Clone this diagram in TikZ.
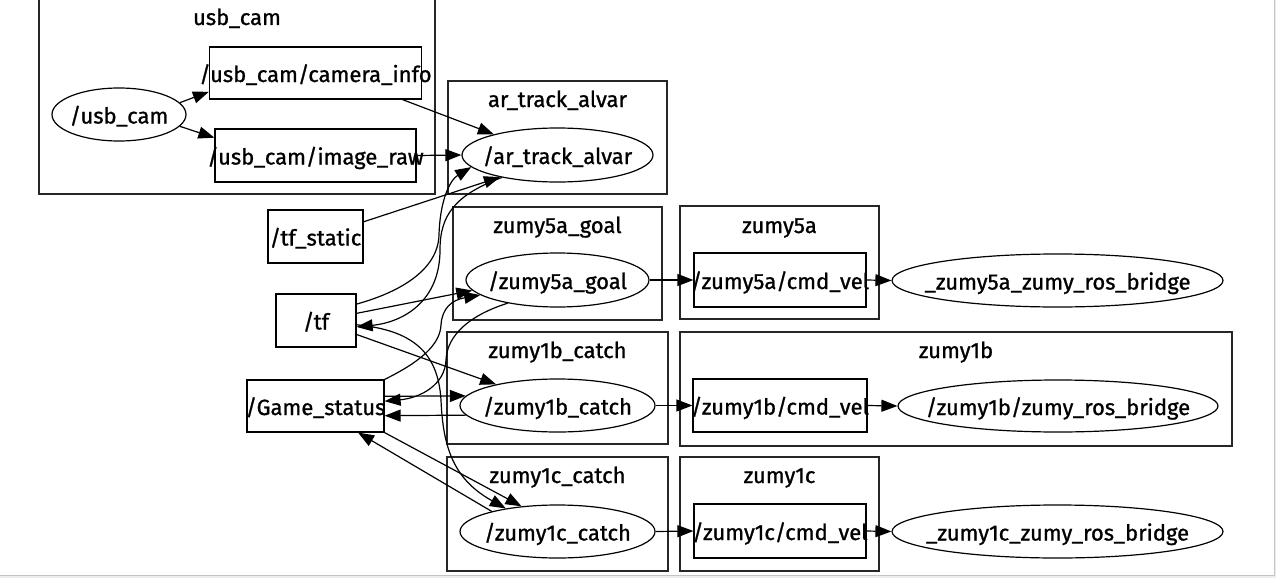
\documentclass[tikz,border=0pt]{standalone}
\usepackage{fontspec}
\setmainfont{Fira Sans}
\usetikzlibrary{shapes.geometric,arrows.meta}
\newfontfamily\nodefont{Fira Sans}[FakeBold=1.0]
\newcommand{\nt}[1]{\makebox[0pt][c]{#1}}
\definecolor{framegray}{HTML}{EDEDED}
\definecolor{framedark}{HTML}{C4C4C4}
\tikzset{
  basebox/.style={draw, line width=1.2pt, inner sep=0pt, font=\nodefont\fontsize{22}{24}\selectfont, text height=18pt, text depth=0pt},
  topic/.style={basebox, rectangle},
  rosnode/.style={basebox, ellipse},
  cluster/.style={draw=black!85, line width=1.2pt},
  clabel/.style={anchor=base, inner sep=0pt, font=\nodefont\fontsize{22}{24}\selectfont},
  arr/.style={-{Triangle[length=16pt,width=12pt]}, line width=1.2pt},
}
\begin{document}
\begin{tikzpicture}[x=1pt,y=-1pt]
\useasboundingbox (0,0) rectangle (1276,578);
\fill[white] (0,0) rectangle (1276,578);
% frame at right and bottom
\fill[framegray] (1274,0) rectangle (1276,578);
\fill[framegray] (0,575) rectangle (1276,578);
\draw[framedark, line width=1pt] (1274.5,0) -- (1274.5,575.5) -- (0,575.5);

% clusters
\draw[cluster] (39,-0.3) rectangle (435,194);
\node[clabel] (lusbcam) at (237,25) {usb\_cam};
\draw[cluster] (448,81) rectangle (667,194);
\node[clabel] (lar) at (557.5,107) {ar\_track\_alvar};
\draw[cluster] (453,207) rectangle (662,320);
\node[clabel] (lgoal) at (557.5,233) {zumy5a\_goal};
\draw[cluster] (680,206) rectangle (879,319);
\node[clabel] (lz5a) at (779.5,233) {zumy5a};
\draw[cluster] (447,332) rectangle (668,444);
\node[clabel] (lc1b) at (557.5,358) {zumy1b\_catch};
\draw[cluster] (680,332) rectangle (1232,446);
\node[clabel] (lz1b) at (956,358) {zumy1b};
\draw[cluster] (447,457) rectangle (668,571);
\node[clabel] (lc1c) at (557.5,483) {zumy1c\_catch};
\draw[cluster] (680,457) rectangle (879,571);
\node[clabel] (lz1c) at (779.5,483) {zumy1c};

% nodes
\node[rosnode, minimum width=134pt, minimum height=53pt] (usbcam) at (119,114.5) {\nt{/usb\_cam}};
\node[topic, minimum width=212pt, minimum height=52pt] (caminfo) at (315.5,73) {\nt{/usb\_cam/camera\_info}};
\node[topic, minimum width=201pt, minimum height=53pt] (imgraw) at (315.5,155.5) {\nt{/usb\_cam/image\_raw}};
\node[rosnode, minimum width=191pt, minimum height=54pt] (ar) at (557.5,155) {\nt{/ar\_track\_alvar}};
\node[topic, minimum width=95pt, minimum height=53pt] (tfstatic) at (315.5,236.5) {\nt{/tf\_static}};
\node[topic, minimum width=80pt, minimum height=53pt] (tf) at (316,320.5) {\nt{/tf}};
\node[rosnode, minimum width=183pt, minimum height=54pt] (goal) at (557.5,280) {\nt{/zumy5a\_goal}};
\node[topic, minimum width=172pt, minimum height=54pt] (vel5a) at (780,280) {\nt{/zumy5a/cmd\_vel}};
\node[rosnode, minimum width=331pt, minimum height=53pt] (br5a) at (1057.5,280.5) {\nt{\_zumy5a\_zumy\_ros\_bridge}};
\node[topic, minimum width=137pt, minimum height=52pt] (game) at (315.5,406) {\nt{/Game\_status}};
\node[rosnode, minimum width=195pt, minimum height=53pt] (c1b) at (557.5,405.5) {\nt{/zumy1b\_catch}};
\node[topic, minimum width=174pt, minimum height=53pt] (vel1b) at (780,405.5) {\nt{/zumy1b/cmd\_vel}};
\node[rosnode, minimum width=320pt, minimum height=52pt] (br1b) at (1058,406) {\nt{/zumy1b/zumy\_ros\_bridge}};
\node[rosnode, minimum width=195pt, minimum height=53pt] (c1c) at (557.5,531.5) {\nt{/zumy1c\_catch}};
\node[topic, minimum width=172pt, minimum height=54pt] (vel1c) at (780,531) {\nt{/zumy1c/cmd\_vel}};
\node[rosnode, minimum width=331pt, minimum height=53pt] (br1c) at (1057.5,531.5) {\nt{\_zumy1c\_zumy\_ros\_bridge}};

% edges
\draw[arr] (usbcam.11) -- (caminfo.190.7);
\draw[arr] (usbcam.-11.6) -- (imgraw.170.7);
\draw[arr] (caminfo.-17.7) -- (ar.162.8);
\draw[arr] (imgraw.east) -- (ar.west);
\draw[arr] (tfstatic.17) -- (ar.201.6);
\draw[arr] (tf.22.4) .. controls (400,292) and (438,270) .. (439,235)
                     .. controls (440,200) and (450,180) .. (ar.188);
\draw[arr] (ar.202) .. controls (455,195) and (440,215) .. (440,250)
                    .. controls (440,300) and (405,322) .. (tf.-9);
\draw[arr] (tf.10.6) -- (goal.187);
\draw[arr] (game.north east) .. controls (420,362) and (440,345) .. (441,325)
                             .. controls (442,308) and (452,300) .. (goal.191);
\draw[arr] (goal.205) .. controls (470,315) and (447,335) .. (446,360)
                      .. controls (445,385) and (420,398) .. (game.4);
\draw[arr] (game.8) -- (c1b.174);
\draw[arr] (c1b.186) -- (game.-8.5);
\draw[arr] (tf.-19.9) -- (c1b.161.3);
\draw[arr] (tf.-6) .. controls (410,330) and (438,350) .. (441,400)
                   .. controls (443,450) and (455,480) .. (c1c.156);
\draw[arr] (game.south east) -- (c1c.145);
\draw[arr] (c1c.163) -- (game.-32);
\draw[arr] (goal.east) -- (vel5a.west);
\draw[arr] (vel5a.east) -- (br5a.west);
\draw[arr] (c1b.east) -- (vel1b.west);
\draw[arr] (vel1b.east) -- (br1b.west);
\draw[arr] (c1c.east) -- (vel1c.west);
\draw[arr] (vel1c.east) -- (br1c.west);
\end{tikzpicture}
\end{document}
